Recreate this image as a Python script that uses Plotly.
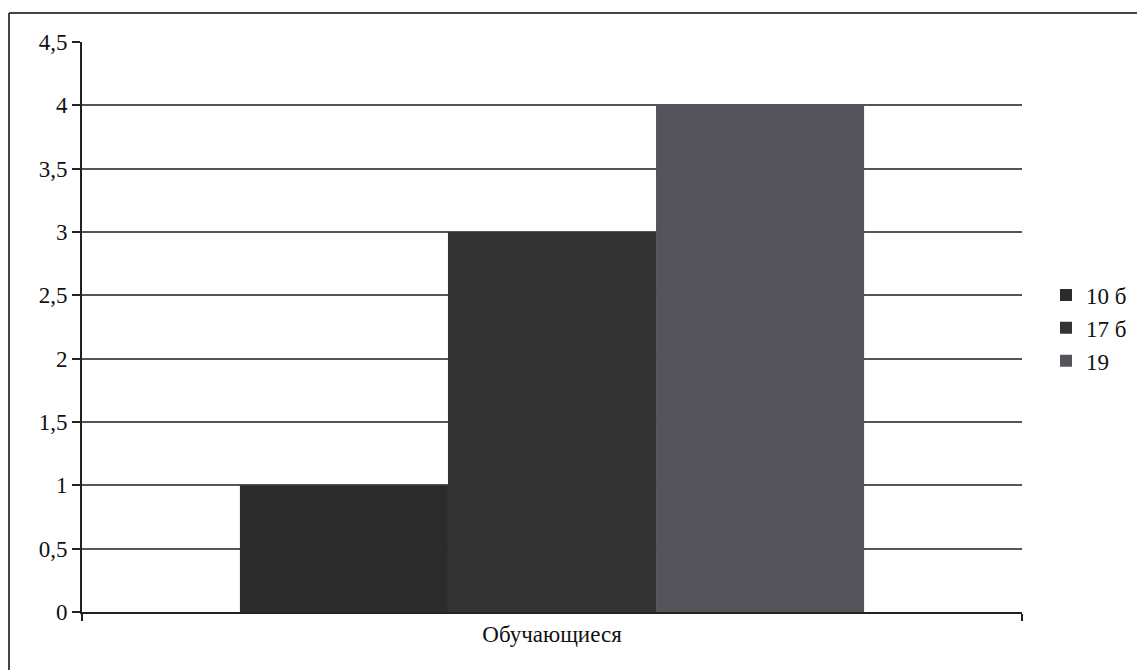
import plotly.graph_objects as go

categories = ["Обучающиеся"]
series_names = ["10 б", "17 б", "19"]
series_values = [[1], [3], [4]]
colors = ["#2b2b2b", "#333333", "#55545b"]

fig = go.Figure()
for name, vals, c in zip(series_names, series_values, colors):
    fig.add_trace(go.Bar(x=categories, y=vals, name=name, marker=dict(color=c, line=dict(width=0))))

# page body has an 8px margin, so the figure origin sits at (8, 8) in the screenshot
OFF = 8
W, H = 1145, 670
L = 82 - OFF
T = 42 - OFF
R = W - (1022 - OFF)
B = H - (612 - OFF)
pw = W - L - R
ph = H - T - B

def px_x(x):
    return (x - OFF - L) / pw

def px_y(y):
    return (H - B - (y - OFF)) / ph

FONT = "Times New Roman, Liberation Serif, DejaVu Serif, serif"

fig.update_layout(
    width=W, height=H,
    margin=dict(l=L, r=R, t=T, b=B),
    paper_bgcolor="white", plot_bgcolor="white",
    barmode="group", bargap=0.336, bargroupgap=0,
    separators=", ",
    font=dict(family=FONT, size=23, color="#111111"),
    showlegend=True,
    legend=dict(x=px_x(1046), y=px_y(328), xanchor="left", yanchor="middle",
                font=dict(family=FONT, size=23), itemwidth=30, tracegroupgap=0,
                bgcolor="rgba(0,0,0,0)"),
    xaxis=dict(showline=True, linecolor="#222", linewidth=2, ticks="outside", tickson="boundaries",
               ticklen=7, tickcolor="#222", tickwidth=1.5, showgrid=False,
               tickfont=dict(family=FONT, size=23)),
    yaxis=dict(range=[0, 4.5], dtick=0.5, showline=True, linecolor="#222", linewidth=2,
               ticks="outside", ticklen=8, tickcolor="#222", tickwidth=1.5,
               showgrid=True, gridcolor="#555555", gridwidth=2, zeroline=False,
               tickfont=dict(family=FONT, size=23)),
    shapes=[
        dict(type="line", xref="paper", yref="paper", x0=px_x(9), x1=px_x(W + 10),
             y0=px_y(13), y1=px_y(13), line=dict(color="#444", width=2)),
        dict(type="line", xref="paper", yref="paper", x0=px_x(9), x1=px_x(9),
             y0=px_y(13), y1=px_y(H + 10), line=dict(color="#444", width=2)),
    ],
)

fig.write_html("out.html")
